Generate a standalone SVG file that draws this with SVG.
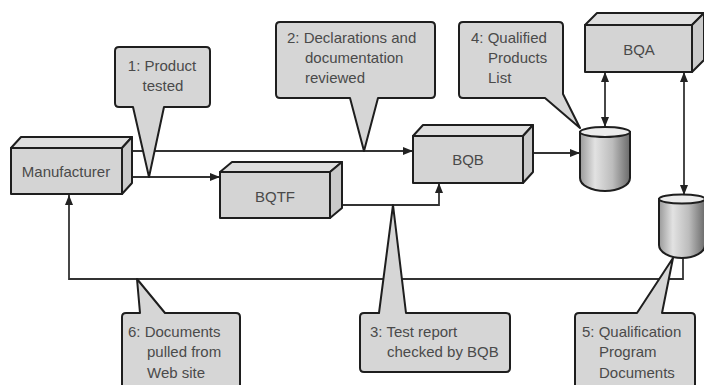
<svg xmlns="http://www.w3.org/2000/svg" width="704" height="385" viewBox="0 0 704 385">
<style>
.face{fill:#d4d4d4;stroke:#1e1e1e;stroke-width:2;stroke-linejoin:round}
.top{fill:#dedede;stroke:#1e1e1e;stroke-width:2;stroke-linejoin:round}
.side{fill:#cacaca;stroke:#1e1e1e;stroke-width:2;stroke-linejoin:round}
.call{fill:#d6d6d6;stroke:#1e1e1e;stroke-width:2;stroke-linejoin:round}
.lbl{font-family:"Liberation Sans",Arial,sans-serif;font-size:15px;fill:#4a4a4a}
.mid{text-anchor:middle}
.con{fill:none;stroke:#333;stroke-width:1.8}
.cyl{fill:url(#cg);stroke:#1e1e1e;stroke-width:2}
.cyltop{fill:#ececec;stroke:#1e1e1e;stroke-width:2}
</style>
<defs>
<marker id="ah" markerUnits="userSpaceOnUse" markerWidth="10" markerHeight="8" refX="10" refY="4" orient="auto-start-reverse">
<path d="M0,0 L10,4 L0,8 Z" fill="#222"/>
</marker>
<linearGradient id="cg" x1="0" y1="0" x2="1" y2="0">
<stop offset="0" stop-color="#9a9a9a"/>
<stop offset="0.3" stop-color="#e2e2e2"/>
<stop offset="0.65" stop-color="#bcbcbc"/>
<stop offset="1" stop-color="#6a6a6a"/>
</linearGradient>
</defs>
<rect width="704" height="385" fill="#fff"/>

<g id="connectors">
<path class="con" d="M128,151 H413" marker-end="url(#ah)"/>
<path class="con" d="M128,177 H220" marker-end="url(#ah)"/>
<path class="con" d="M336,205 H439 V183" marker-end="url(#ah)"/>
<path class="con" d="M528,153 H580" marker-end="url(#ah)"/>
<path class="con" d="M605,72 V127" marker-start="url(#ah)" marker-end="url(#ah)"/>
<path class="con" d="M684,72 V195" marker-start="url(#ah)" marker-end="url(#ah)"/>
<path class="con" d="M683,257 V279 H69 V195" marker-end="url(#ah)"/>
</g>

<g id="manufacturer">
<polygon class="top" points="11,148 21,137 132,137 122,148"/>
<polygon class="side" points="122,148 132,137 132,183 122,194"/>
<rect class="face" x="11" y="148" width="111" height="46"/>
<text class="lbl mid" x="66" y="177">Manufacturer</text>
</g>

<g id="bqtf">
<polygon class="top" points="220,172 232,162 342,162 330,172"/>
<polygon class="side" points="330,172 342,162 342,208 330,218"/>
<rect class="face" x="220" y="172" width="110" height="46"/>
<text class="lbl mid" x="275" y="202">BQTF</text>
</g>

<g id="bqb">
<polygon class="top" points="413,136 423,125 533,125 523,136"/>
<polygon class="side" points="523,136 533,125 533,172 523,183"/>
<rect class="face" x="413" y="136" width="110" height="47"/>
<text class="lbl mid" x="468" y="165">BQB</text>
</g>

<g id="bqa">
<polygon class="top" points="585,25 597,13 704,13 692,25"/>
<polygon class="side" points="692,25 704,13 704,60 692,72"/>
<rect class="face" x="585" y="25" width="107" height="47"/>
<text class="lbl mid" x="639" y="55">BQA</text>
</g>

<g id="qpl-db">
<path class="cyl" d="M580,132 V178 A25,13 0 0 0 630,178 V132 Z"/>
<ellipse class="cyltop" cx="605" cy="132" rx="25" ry="5"/>
</g>

<g id="qpd-db">
<path class="cyl" d="M659,199 V245 A23,13 0 0 0 705,245 V199 Z"/>
<ellipse class="cyltop" cx="682" cy="199" rx="23" ry="4.5"/>
</g>

<g id="callout1">
<path class="call" d="M119,47 H206 Q210,47 210,51 V103 Q210,107 206,107 H164 L149,177 L133,107 H119 Q115,107 115,103 V51 Q115,47 119,47 Z"/>
<text class="lbl mid" x="162" y="71">1: Product</text>
<text class="lbl mid" x="163" y="91">tested</text>
</g>

<g id="callout2">
<path class="call" d="M280,22 H431 Q435,22 435,26 V94 Q435,98 431,98 H378 L364,151 L350,98 H280 Q276,98 276,94 V26 Q276,22 280,22 Z"/>
<text class="lbl" x="287" y="43">2: Declarations and</text>
<text class="lbl" x="305" y="63">documentation</text>
<text class="lbl" x="305" y="83">reviewed</text>
</g>

<g id="callout4">
<path class="call" d="M463,22 H559 Q563,22 563,26 V94 L580,128 L545,98 H463 Q459,98 459,94 V26 Q459,22 463,22 Z"/>
<text class="lbl" x="471" y="43">4: Qualified</text>
<text class="lbl" x="488" y="63">Products</text>
<text class="lbl" x="488" y="83">List</text>
</g>

<g id="callout3">
<path class="call" d="M364,313 H379 L393,205 L406,313 H506 Q510,313 510,317 V368 Q510,372 506,372 H364 Q360,372 360,368 V317 Q360,313 364,313 Z"/>
<text class="lbl" x="370" y="337">3: Test report</text>
<text class="lbl" x="387" y="357">checked by BQB</text>
</g>

<g id="callout6">
<path class="call" d="M126,313 H140 L137,279 L165,313 H236 Q240,313 240,317 V400 H122 V317 Q122,313 126,313 Z"/>
<text class="lbl" x="128" y="337">6: Documents</text>
<text class="lbl" x="147" y="357">pulled from</text>
<text class="lbl" x="147" y="378">Web site</text>
</g>

<g id="callout5">
<path class="call" d="M579,313 H637 L673,258 L662,313 H691 Q695,313 695,317 V400 H575 V317 Q575,313 579,313 Z"/>
<text class="lbl" x="582" y="337">5: Qualification</text>
<text class="lbl" x="599" y="357">Program</text>
<text class="lbl" x="599" y="378">Documents</text>
</g>
</svg>
